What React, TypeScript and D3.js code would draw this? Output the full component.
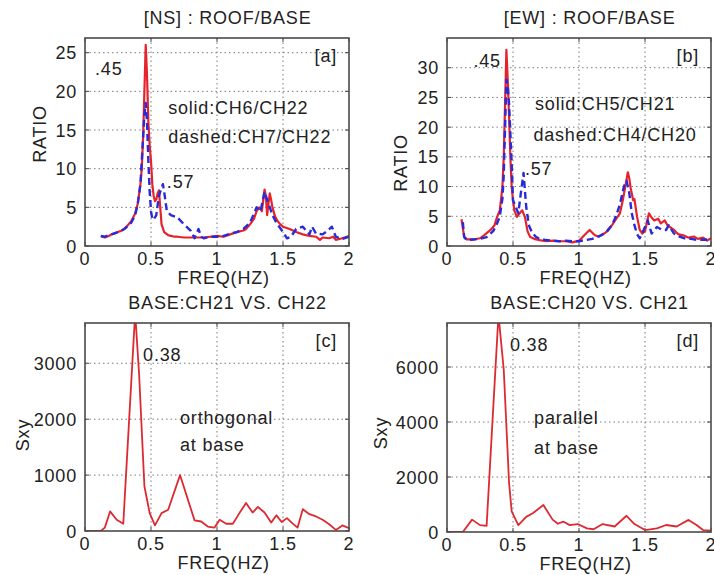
import React from "react";
import * as d3 from "d3";

// ---------- DATA ----------
const nsSolidF = [0.12,0.15,0.18,0.2,0.22,0.25,0.28,0.3,0.32,0.35,0.38,0.4,0.42,0.43,0.44,0.45,0.46,0.47,0.48,0.49,0.5,0.51,0.52,0.53,0.54,0.55,0.56,0.57,0.58,0.6,0.63,0.65,0.68,0.7,0.75,0.8,0.85,0.9,0.95,1.0,1.05,1.1,1.15,1.2,1.22,1.25,1.28,1.3,1.32,1.34,1.36,1.37,1.38,1.39,1.4,1.41,1.42,1.44,1.46,1.48,1.5,1.55,1.6,1.65,1.7,1.75,1.78,1.8,1.85,1.88,1.9,1.95,2.0];
const nsSolidV = [1.3,1.1,1.3,1.5,1.6,1.8,2.0,2.3,2.6,3.2,4.2,5.5,8,10,14,20,26,22,16,13,11,8,6.5,5.8,6,6.8,7.2,5,2.8,1.8,1.4,1.3,1.2,1.2,1.1,1.1,1.1,1.1,1.2,1.3,1.2,1.5,1.8,2.0,2.2,2.8,3.5,4.5,5,4.5,7.3,6.5,4,5.5,6.8,6,5,3.8,3.2,2.8,2.5,2.2,1.8,1.5,1.3,1.2,0.8,1.1,1.0,1.2,0.8,1.0,1.3];

const nsDashedF = [0.12,0.15,0.2,0.25,0.3,0.35,0.38,0.4,0.42,0.44,0.45,0.46,0.47,0.48,0.49,0.5,0.51,0.52,0.54,0.56,0.59,0.6,0.62,0.65,0.7,0.75,0.8,0.83,0.86,0.88,0.9,0.95,1.0,1.05,1.1,1.15,1.2,1.25,1.3,1.33,1.36,1.38,1.4,1.42,1.45,1.5,1.53,1.56,1.6,1.65,1.7,1.72,1.75,1.8,1.84,1.87,1.9,1.95,2.0];
const nsDashedV = [1.3,1.2,1.5,1.8,2.2,3,4,5.5,8,14,17,18.5,16,11,7,4.5,3.5,3.4,4,6.5,8,7,4.5,4,3.7,2.8,2,1.0,2.2,1.2,1.0,1.2,1.2,1.3,1.6,1.8,2.2,3,5,4.5,7,6,5,4,3,1.8,1.0,1.2,2.2,2.5,1.5,2.5,1.6,1.5,2.0,2.5,1.2,0.9,1.2];

const ewSolidF = [0.11,0.12,0.13,0.15,0.2,0.25,0.28,0.33,0.36,0.38,0.4,0.42,0.43,0.44,0.45,0.46,0.47,0.48,0.49,0.5,0.51,0.53,0.55,0.57,0.59,0.61,0.63,0.66,0.7,0.75,0.8,0.85,0.9,0.95,1.0,1.04,1.08,1.12,1.15,1.19,1.22,1.25,1.28,1.31,1.33,1.35,1.37,1.38,1.39,1.41,1.42,1.44,1.46,1.48,1.5,1.53,1.55,1.57,1.6,1.62,1.65,1.67,1.7,1.72,1.75,1.79,1.83,1.87,1.9,1.94,1.97,2.0];
const ewSolidV = [4.5,3,1.6,1.1,1.1,1.3,1.8,2.7,3.5,4.9,6,10,15,24,33,28,22,15,10,7.7,6,4.9,5.5,6,4.9,2.5,1.5,1.2,1.0,0.8,0.9,0.8,0.8,0.6,0.9,1.8,2.7,1.8,1.6,2.1,2.6,3.5,4.5,5.5,7.5,9.9,12.4,11.5,9.9,7.7,7.9,4.9,2.7,2.1,2.5,5.5,4.8,4.3,4.6,3.8,4.3,3.5,3.0,2.7,2.0,1.8,1.4,1.6,1.2,1.4,0.9,1.3];

const ewDashedF = [0.12,0.13,0.15,0.2,0.25,0.3,0.35,0.38,0.4,0.42,0.43,0.44,0.45,0.46,0.47,0.48,0.49,0.5,0.52,0.54,0.56,0.58,0.6,0.62,0.64,0.67,0.7,0.75,0.8,0.85,0.9,0.95,1.0,1.05,1.1,1.15,1.2,1.25,1.28,1.31,1.34,1.36,1.38,1.4,1.42,1.44,1.46,1.49,1.52,1.55,1.59,1.63,1.66,1.68,1.72,1.76,1.8,1.85,1.9,1.95,2.0];
const ewDashedV = [4.0,1.5,1.0,1.1,1.2,1.5,2.5,3.8,5,8,12,20,28,27,24,19,14,7.7,6.6,5.5,9,12.3,6.6,3.5,2.5,1.6,1.2,1.0,0.9,0.8,0.9,0.8,0.8,1.0,1.2,1.6,2.2,3.5,5,7,10,11,9,5.5,3.5,2.0,1.3,2.7,4.3,2.1,3.2,2.7,2.7,3.5,2.1,1.6,1.3,1.2,1.0,1.1,1.0];

const baseOrthF = [0,0.04,0.08,0.12,0.15,0.19,0.24,0.29,0.38,0.41,0.45,0.49,0.53,0.58,0.63,0.72,0.83,0.88,0.93,0.98,1.02,1.07,1.12,1.17,1.22,1.27,1.31,1.36,1.41,1.45,1.49,1.53,1.57,1.61,1.65,1.7,1.75,1.8,1.85,1.9,1.95,2.0];
const baseOrthV = [0,0,0,0,60,350,200,130,3900,2800,800,320,100,320,380,1000,190,170,80,60,200,130,130,320,500,330,430,330,150,280,160,230,140,60,390,300,260,200,120,20,100,50];

const baseParF = [0,0.04,0.08,0.12,0.19,0.25,0.3,0.39,0.43,0.47,0.49,0.54,0.6,0.65,0.73,0.8,0.84,0.88,0.93,0.99,1.06,1.11,1.18,1.27,1.36,1.42,1.5,1.59,1.66,1.74,1.83,1.89,1.94,2.0];
const baseParV = [0,0,0,0,450,250,220,7900,5900,1800,750,250,550,680,980,450,300,380,250,290,130,100,290,200,590,290,70,130,255,200,440,255,70,50];

const xTicks = [0, 0.5, 1, 1.5, 2];
const xTickLabels = ["0", "0.5", "1", "1.5", "2"];
const yTicksA = [0, 5, 10, 15, 20, 25];
const yTicksB = [0, 5, 10, 15, 20, 25, 30];
const yTicksC = [0, 1000, 2000, 3000];
const yTicksD = [0, 2000, 4000, 6000];

const titles = ["[NS] : ROOF/BASE", "[EW] : ROOF/BASE", "BASE:CH21 VS. CH22", "BASE:CH20 VS. CH21"];
const yLabels = ["RATIO", "RATIO", "Sxy", "Sxy"];
const panelTags = ["[a]", "[b]", "[c]", "[d]"];

// annotations: [text, freq, value]
const annA: [string, number, number][] = [[".45", 0.076, 22.1], ["solid:CH6/CH22", 0.63, 17.1], ["dashed:CH7/CH22", 0.63, 13.3], [".57", 0.62, 7.5]];
const annB: [string, number, number][] = [[".45", 0.2, 30.1], ["solid:CH5/CH21", 0.667, 22.9], ["dashed:CH4/CH20", 0.655, 17.6], [".57", 0.59, 11.9]];
const annC: [string, number, number][] = [["0.38", 0.44, 3041], ["orthogonal", 0.72, 1914], ["at base", 0.72, 1431]];
const annD: [string, number, number][] = [["0.38", 0.477, 6580], ["parallel", 0.66, 3930], ["at base", 0.66, 2840]];

// ---------- STYLE ----------
const FONT = "'Liberation Sans', Arial, Helvetica, sans-serif";
const FS = 18;
const LS = 0.8;
const TXT = "#222";
const RED = "#e6222b";
const BLUE = "#2a2ad8";

type Series = { f: number[]; v: number[]; color: string; dashed: boolean; width: number };

interface PanelCfg {
  left: number; top: number; w: number; h: number;
  ymax: number; yTicks: number[];
  title: string; yLabel: string; tag: string;
  series: Series[];
  ann: [string, number, number][];
  yLabelX: number; yLabelY: number;
}

const panels: PanelCfg[] = [
  { left: 85, top: 38, w: 264, h: 208, ymax: 26.9, yTicks: yTicksA, title: titles[0], yLabel: yLabels[0], tag: panelTags[0],
    series: [
      { f: nsSolidF, v: nsSolidV, color: RED, dashed: false, width: 2.2 },
      { f: nsDashedF, v: nsDashedV, color: BLUE, dashed: true, width: 2.4 },
    ], ann: annA, yLabelX: 40, yLabelY: 134 },
  { left: 447, top: 38, w: 264, h: 208, ymax: 35, yTicks: yTicksB, title: titles[1], yLabel: yLabels[1], tag: panelTags[1],
    series: [
      { f: ewSolidF, v: ewSolidV, color: RED, dashed: false, width: 2.2 },
      { f: ewDashedF, v: ewDashedV, color: BLUE, dashed: true, width: 2.4 },
    ], ann: annB, yLabelX: 401, yLabelY: 163 },
  { left: 85, top: 323, w: 264, h: 208, ymax: 3720, yTicks: yTicksC, title: titles[2], yLabel: yLabels[2], tag: panelTags[2],
    series: [{ f: baseOrthF, v: baseOrthV, color: "#dc2a32", dashed: false, width: 1.8 }],
    ann: annC, yLabelX: 23, yLabelY: 435 },
  { left: 447, top: 323, w: 264, h: 209, ymax: 7600, yTicks: yTicksD, title: titles[3], yLabel: yLabels[3], tag: panelTags[3],
    series: [{ f: baseParF, v: baseParV, color: "#dc2a32", dashed: false, width: 1.8 }],
    ann: annD, yLabelX: 381, yLabelY: 433 },
];

function Panel({ p, idx }: { p: PanelCfg; idx: number }) {
  const x = d3.scaleLinear().domain([0, 2]).range([p.left, p.left + p.w]);
  const y = d3.scaleLinear().domain([0, p.ymax]).range([p.top + p.h, p.top]);
  const line = d3.line<[number, number]>().x((d) => x(d[0])).y((d) => y(d[1]));
  const clipId = `clip-${idx}`;
  const bottom = p.top + p.h;
  const right = p.left + p.w;
  const tickLen = 4;
  const textProps = { fontFamily: FONT, fontSize: FS, fill: TXT, letterSpacing: LS } as any;
  return (
    <g>
      <defs>
        <clipPath id={clipId}>
          <rect x={p.left} y={p.top} width={p.w} height={p.h} />
        </clipPath>
      </defs>
      {xTicks.filter((t) => t > 0 && t < 2).map((t) => (
        <line key={"gx" + t} x1={x(t)} x2={x(t)} y1={p.top} y2={bottom} stroke="#7a7a7a" strokeWidth={1} strokeDasharray="1.5,3" />
      ))}
      {p.yTicks.filter((t) => t > 0).map((t) => (
        <line key={"gy" + t} x1={p.left} x2={right} y1={y(t)} y2={y(t)} stroke="#7a7a7a" strokeWidth={1} strokeDasharray="1.5,3" />
      ))}
      {xTicks.map((t) => (
        <g key={"tx" + t}>
          <line x1={x(t)} x2={x(t)} y1={bottom} y2={bottom - tickLen} stroke="#444" strokeWidth={1} />
          <line x1={x(t)} x2={x(t)} y1={p.top} y2={p.top + tickLen} stroke="#444" strokeWidth={1} />
        </g>
      ))}
      {p.yTicks.map((t) => (
        <g key={"ty" + t}>
          <line x1={p.left} x2={p.left + tickLen} y1={y(t)} y2={y(t)} stroke="#444" strokeWidth={1} />
          <line x1={right} x2={right - tickLen} y1={y(t)} y2={y(t)} stroke="#444" strokeWidth={1} />
        </g>
      ))}
      <g clipPath={`url(#${clipId})`}>
        {p.series.map((s, i) => (
          <path key={i} d={line(s.f.map((f, j) => [f, s.v[j]] as [number, number])) || ""} fill="none"
            stroke={s.color} strokeWidth={s.width} strokeDasharray={s.dashed ? "7,4" : undefined} strokeLinejoin="round" />
        ))}
      </g>
      <rect x={p.left} y={p.top} width={p.w} height={p.h} fill="none" stroke="#4a4a4a" strokeWidth={1.6} />
      {xTicks.map((t, i) => (
        <text key={"lx" + t} x={x(t)} y={bottom + 19} textAnchor="middle" {...textProps}>{xTickLabels[i]}</text>
      ))}
      {p.yTicks.map((t) => (
        <text key={"ly" + t} x={p.left - 8} y={y(t) + 6.5} textAnchor="end" {...textProps}>{String(t)}</text>
      ))}
      <text x={x(1.05)} y={bottom + 38} textAnchor="middle" {...textProps}>FREQ(HZ)</text>
      <text x={p.yLabelX} y={p.yLabelY} textAnchor="middle" dominantBaseline="central" transform={`rotate(-90 ${p.yLabelX} ${p.yLabelY})`} {...textProps}>{p.yLabel}</text>
      <text x={x(1.08)} y={p.top - 14} textAnchor="middle" {...textProps}>{p.title}</text>
      <text x={right - 12} y={p.top + 24} textAnchor="end" {...textProps}>{p.tag}</text>
      {p.ann.map((a, i) => (
        <text key={"an" + i} x={x(a[1])} y={y(a[2])} {...textProps}>{a[0]}</text>
      ))}
    </g>
  );
}

export default function App() {
  return (
    <svg width={714} height={575} viewBox="0 0 714 575" style={{ position: "absolute", left: 0, top: 0, background: "#fff" }}>
      <rect x={0} y={0} width={714} height={575} fill="#fff" />
      {panels.map((p, i) => (
        <Panel key={i} p={p} idx={i} />
      ))}
    </svg>
  );
}
